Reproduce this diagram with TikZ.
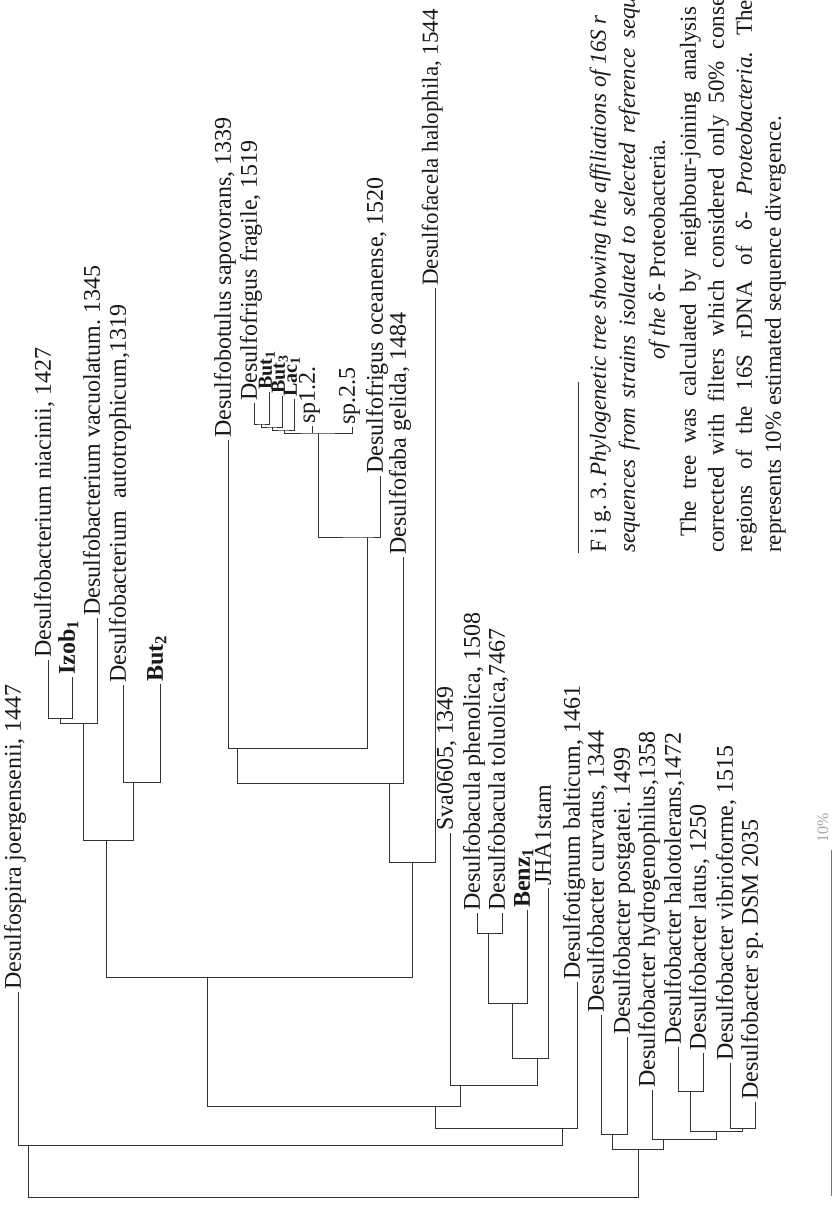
\documentclass[tikz,border=0pt]{standalone}
\usepackage{fontspec}
\setmainfont{Liberation Serif}
\newcommand\lfont{\fontsize{24}{28}\selectfont}
\newcommand\cfont{\fontsize{23}{27}\selectfont}
\frenchspacing
\begin{document}
\begin{tikzpicture}[x=1pt,y=-1pt,
  br/.style={line width=0.8pt, draw=black!80},
  lab/.style={rotate=90, anchor=west, inner xsep=2pt, inner ysep=0pt, text height=1.5ex, text depth=0.3ex, font=\lfont, text=black!90},
  smallbold/.style={font=\fontsize{20}{24}\selectfont\bfseries},
  captxt/.style={rotate=90, anchor=west, inner sep=0pt, text height=1.5ex, text depth=0.3ex, font=\cfont, text=black!90}]
\path[use as bounding box] (0,0) rectangle (836,1208);
\clip (0,0) rectangle (836,1208);
\fill[white] (0,0) rectangle (836,1208);

% internal nodes (stem points)
\coordinate (root) at (333,1197);
\coordinate (A) at (28,1145);
\coordinate (B) at (562,1128);
\coordinate (C) at (435,1106);
\coordinate (E) at (207,977);
\coordinate (O) at (106,840);
\coordinate (Q) at (83,723);
\coordinate (R) at (60,718);
\coordinate (S) at (133,782);
\coordinate (P) at (412,862);
\coordinate (V) at (389,783);
\coordinate (T) at (237,748);
\coordinate (U) at (367,537);
\coordinate (W) at (318,433);
\coordinate (Y1) at (261,424);
\coordinate (Y2) at (272,427);
\coordinate (Y3) at (284,430);
\coordinate (F) at (460,1085);
\coordinate (G) at (537,1058);
\coordinate (H) at (512,1003);
\coordinate (I) at (488,933);
\coordinate (D) at (638,1149);
\coordinate (J) at (612,1134);
\coordinate (K) at (663,1139);
\coordinate (L) at (716,1131);
\coordinate (M) at (690,1091);
\coordinate (N) at (742,1128);

% leaves
\node[lab] (l1) at (18,992) {Desulfospira joergensenii, 1447};
\node[lab] (l2) at (48,660) {Desulfobacterium niacinii, 1427};
\node[lab] (l3) at (72,677) {\textbf{Izob\textsubscript{1}}};
\node[lab] (l4) at (97,618) {Desulfobacterium vacuolatum. 1345};
\node[lab] (l5) at (123,685) {Desulfobacterium\ \ autotrophicum,1319};
\node[lab] (l6) at (160,684) {\textbf{But\textsubscript{2}}};
\node[lab] (l7) at (228,440) {Desulfobotulus sapovorans, 1339};
\node[lab] (l8) at (254,403) {Desulfofrigus fragile, 1519};
\node[lab, smallbold] (l9) at (269,392) {But\textsubscript{1}};
\node[lab, smallbold] (l10) at (282,396) {But\textsubscript{3}};
\node[lab, smallbold] (l11) at (294,399) {Lac\textsubscript{1}};
\node[lab] (l12) at (312,426) {sp1.2.};
\node[lab] (l13) at (352,427) {sp.2.5};
\node[lab] (l14) at (380,476) {Desulfofrigus oceanense, 1520};
\node[lab] (l15) at (403,557) {Desulfofaba gelida, 1484};
\node[lab, font=\fontsize{23}{27}\selectfont] (l16) at (435,288) {Desulfofacela halophila, 1544};
\node[lab] (l17) at (450,833) {Sva0605, 1349};
\node[lab] (l18) at (477,913) {Desulfobacula phenolica, 1508};
\node[lab] (l19) at (502,913) {Desulfobacula toluolica,7467};
\node[lab] (l20) at (527,910) {\textbf{Benz\textsubscript{1}}};
\node[lab] (l21) at (548,888) {JHA1stam};
\node[lab] (l22) at (577,982) {Desulfotignum balticum, 1461};
\node[lab] (l23) at (601,1015) {Desulfobacter curvatus, 1344};
\node[lab] (l24) at (627,1037) {Desulfobacter postgatei. 1499};
\node[lab] (l25) at (652,1090) {Desulfobacter hydrogenophilus,1358};
\node[lab] (l26) at (678,1047) {Desulfobacter halotolerans,1472};
\node[lab] (l27) at (703,1053) {Desulfobacter latus, 1250};
\node[lab] (l28) at (730,1063) {Desulfobacter vibrioforme, 1515};
\node[lab] (l29) at (755,1102) {Desulfobacter sp. DSM 2035};

% branches
\draw[br] (A) |- (root) -| (D);
\draw[br] (l1.west) |- (A) -| (B);
\draw[br] (C) |- (B) -| (l22.west);
\draw[br] (E) |- (C) -| (F);
\draw[br] (O) |- (E) -| (P);
\draw[br] (Q) |- (O) -| (S);
\draw[br] (R) |- (Q) -| (l4.west);
\draw[br] (l2.west) |- (R) -| (l3.west);
\draw[br] (l5.west) |- (S) -| (l6.west);
\draw[br] (V) |- (P) -| (l16.west);
\draw[br] (T) |- (V) -| (l15.west);
\draw[br] (l7.west) |- (T) -| (U);
\draw[br] (W) |- (U) -| (l14.west);
\draw[br] (Y3) |- (W) -| (l13.west);
\draw[br] (l12.west) -- (l12.west |- W);
\draw[br] (Y2) |- (Y3) -| (l11.west);
\draw[br] (Y1) |- (Y2) -| (l10.west);
\draw[br] (l8.west) |- (Y1) -| (l9.west);
\draw[br] (l17.west) |- (F) -| (G);
\draw[br] (H) |- (G) -| (l21.west);
\draw[br] (I) |- (H) -| (l20.west);
\draw[br] (l18.west) |- (I) -| (l19.west);
\draw[br] (J) |- (D) -| (K);
\draw[br] (l23.west) |- (J) -| (l24.west);
\draw[br] (l25.west) |- (K) -| (L);
\draw[br] (M) |- (L) -| (N);
\draw[br] (l26.west) |- (M) -| (l27.west);
\draw[br] (l28.west) |- (N) -| (l29.west);

% caption
\draw[br] (578,382) -- (578,553);
\node[captxt] (c1) at (603,553) {F i g. 3. \textit{Phylogenetic tree showing the affiliations of 16S r}};
\node[captxt] (c2) at (632,553) {\makebox[556pt][s]{\textit{sequences from strains isolated to selected reference sequ}}};
\node[captxt] (c3) at (662,360) {\textit{of the} δ- Proteobacteria.};
\node[captxt] (c4) at (693,537) {\makebox[530pt][s]{The tree was calculated by neighbour-joining analysis}};
\node[captxt] (c5) at (721,553) {\makebox[556pt][s]{corrected with filters which considered only 50\% conse}};
\node[captxt] (c6) at (749,553) {\makebox[553pt][s]{regions of the 16S rDNA of δ- \textit{Proteobacteria.} The}};
\node[captxt] (c7) at (778,553) {represents 10\% estimated sequence divergence.};

% scale bar
\draw[line width=0.8pt, draw=black!55] (831,850) -- (831,1196);
\node[rotate=90, text=black!35, font=\fontsize{16}{18}\selectfont, inner sep=0pt] (sc) at (823,828) {10\%};
\end{tikzpicture}
\end{document}
